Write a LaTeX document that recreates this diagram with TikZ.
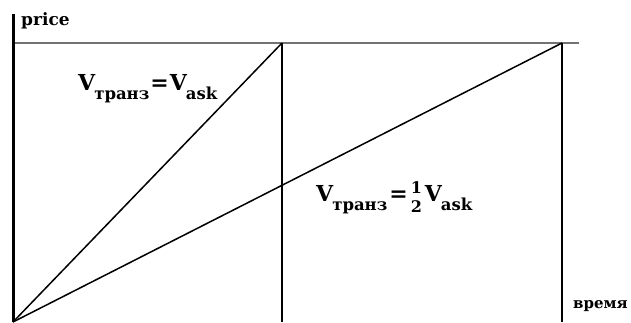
\documentclass[tikz,border=0pt]{standalone}
\usepackage{fontspec}
\setmainfont{DejaVu Serif}
\tikzset{
  axisline/.style={line width=3pt, black},
  guideline/.style={line width=1.6pt, black!55},
  boundline/.style={line width=2.6pt, black},
  rayline/.style={line width=1.5pt, black},
  lbl/.style={inner sep=0pt, anchor=base west},
  small/.style={font=\bfseries\fontsize{17}{17}\selectfont}
}
\newcommand{\Vsub}[1]{{\fontsize{22}{22}\selectfont V}\kern-1pt\raisebox{-9pt}{\fontsize{16.5}{16.5}\selectfont #1}}
\newcommand{\Half}{\ooalign{\hfil\raisebox{8pt}{1}\hfil\cr\hfil\raisebox{-11pt}{2}\hfil}}
\begin{document}
\begin{tikzpicture}[x=1pt,y=-1pt]
\useasboundingbox (0,0) rectangle (631,322);
\coordinate (o) at (13,322);
\coordinate (ytop) at (13,14);
\coordinate (tl) at (13,43);
\coordinate (tr) at (579,43);
\coordinate (m1) at (282,43);
\coordinate (m1b) at (282,322);
\coordinate (m2) at (562,43);
\coordinate (m2b) at (562,322);
\draw[guideline] (tl) -- (tr);
\draw[axisline] (o) -- (ytop);
\draw[boundline] (m1) -- (m1b);
\draw[boundline] (m2) -- (m2b);
\draw[rayline] (o) -- (m1);
\draw[rayline] (o) -- (m2);
\node[lbl, small] (price) at (21,25) {price};
\node[lbl, font=\bfseries\fontsize{15}{15}\selectfont] (time) at (573,308) {время};
\node[lbl, font=\bfseries\fontsize{22}{22}\selectfont] (eq1) at (78,90) {\Vsub{транз}\kern1pt=\kern1pt\Vsub{ask}};
\node[lbl, font=\bfseries\fontsize{22}{22}\selectfont] (eq2) at (316,201) {\Vsub{транз}\kern2pt={\fontsize{16}{16}\selectfont\kern3pt\Half\kern3pt}\Vsub{ask}};
\end{tikzpicture}
\end{document}
